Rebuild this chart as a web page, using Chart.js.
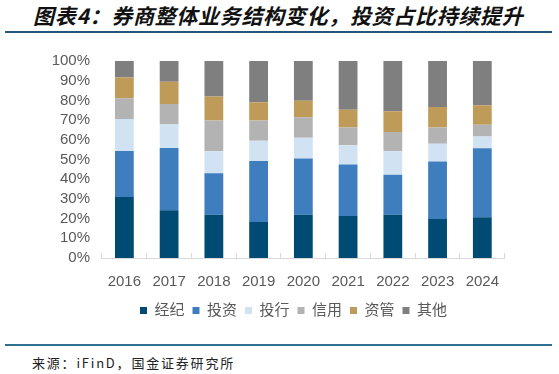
<!DOCTYPE html>
<html>
<head>
<meta charset="utf-8">
<script src="https://cdn.jsdelivr.net/npm/chart.js@4.4.1/dist/chart.umd.min.js"></script>
<style>
  html, body { margin: 0; padding: 0; background: #fff; }
  body { width: 559px; height: 374px; position: relative; overflow: hidden; }
  #titulo {
    position: absolute; left: 33px; top: 0px;
    font-family: 'Noto Sans CJK SC', sans-serif; font-size: 21px; font-weight: bold; font-style: italic;
    letter-spacing: 0.7px; color: #111; white-space: nowrap;
  }
  #linhaTopo { position: absolute; left: 5px; width: 547px; top: 31px; height: 2px; background: #23557f; }
  #linhaBase { position: absolute; left: 5px; width: 547px; top: 344px; height: 2px; background: #2f6f8f; }
  #fonte {
    position: absolute; left: 32px; top: 353px;
    font-family: 'Noto Sans CJK SC', sans-serif; font-size: 13px; letter-spacing: 1.8px;
    color: #222; white-space: nowrap;
  }
  #caixaGrafico { position: absolute; left: 0; top: 40px; width: 519px; height: 290px; }
</style>
</head>
<body>
<div id="titulo">图表4：券商整体业务结构变化，投资占比持续提升</div>
<div id="linhaTopo"></div>
<div id="caixaGrafico"><canvas id="grafico"></canvas></div>
<div id="linhaBase"></div>
<div id="fonte">来源：iFinD，国金证券研究所</div>
<script>
// Dados (% da receita)
const anos = ['2016', '2017', '2018', '2019', '2020', '2021', '2022', '2023', '2024'];
const corretagem = [31.0, 24.3, 22.0, 18.3, 22.0, 21.3, 22.0, 19.8, 20.7];   // 经纪
const investimento = [23.3, 31.5, 21.0, 30.9, 28.5, 26.2, 20.3, 29.2, 35.0]; // 投资
const bancoInvest = [16.3, 12.0, 11.2, 10.3, 10.5, 9.7, 11.9, 9.0, 6.0];    // 投行
const credito = [10.5, 10.4, 15.6, 10.3, 10.5, 9.0, 9.8, 8.2, 6.0];         // 信用
const gestao = [10.5, 11.3, 12.2, 9.2, 8.3, 9.0, 10.5, 10.5, 9.8];          // 资管
const outros = [8.4, 10.5, 18.0, 21.0, 20.2, 24.8, 25.5, 23.3, 22.5];       // 其他
const ticksY = [0, 10, 20, 30, 40, 50, 60, 70, 80, 90, 100];

const series = [
  { label: '经纪', data: corretagem, cor: '#004b73' },
  { label: '投资', data: investimento, cor: '#3f7ebe' },
  { label: '投行', data: bancoInvest, cor: '#d1e2f3' },
  { label: '信用', data: credito, cor: '#b3b3b3' },
  { label: '资管', data: gestao, cor: '#be9b59' },
  { label: '其他', data: outros, cor: '#7f7f7f' }
];

Chart.defaults.font.family = "'Liberation Sans', 'Noto Sans CJK SC', sans-serif";
Chart.defaults.color = '#595959';

// empurra a legenda para a direita, centrada como no original
const deslocaLegenda = {
  id: 'deslocaLegenda',
  afterLayout(chart) {
    const leg = chart.legend;
    if (leg) { leg.left += 34; leg.right += 34; }
  }
};

new Chart(document.getElementById('grafico'), {
  type: 'bar',
  data: {
    labels: anos,
    datasets: series.map(s => ({
      label: s.label,
      data: s.data,
      backgroundColor: s.cor,
      borderWidth: 0,
      barPercentage: 0.42,
      categoryPercentage: 1
    }))
  },
  plugins: [deslocaLegenda],
  options: {
    responsive: true,
    maintainAspectRatio: false,
    animation: false,
    layout: { padding: { left: 0, right: 0, top: 14, bottom: 2 } },
    plugins: {
      tooltip: { enabled: false },
      legend: {
        position: 'bottom',
        labels: { boxWidth: 7, boxHeight: 7, padding: 8, font: { size: 15 }, color: '#595959' }
      }
    },
    scales: {
      x: {
        stacked: true,
        grid: { drawOnChartArea: false, color: '#d9d9d9', tickLength: -5 },
        border: { color: '#d9d9d9' },
        ticks: { padding: 20, font: { size: 15 }, color: '#595959' },
        afterFit: axis => { axis.height = 37; }
      },
      y: {
        stacked: true,
        min: 0,
        max: 100,
        afterBuildTicks: axis => { axis.ticks = ticksY.map(v => ({ value: v })); },
        grid: { display: false, drawTicks: false },
        border: { display: false },
        ticks: { autoSkip: false, padding: 12, font: { size: 15 }, color: '#595959', callback: v => v + '%' },
        afterFit: axis => { axis.width = 102; }
      }
    }
  }
});
</script>
</body>
</html>
